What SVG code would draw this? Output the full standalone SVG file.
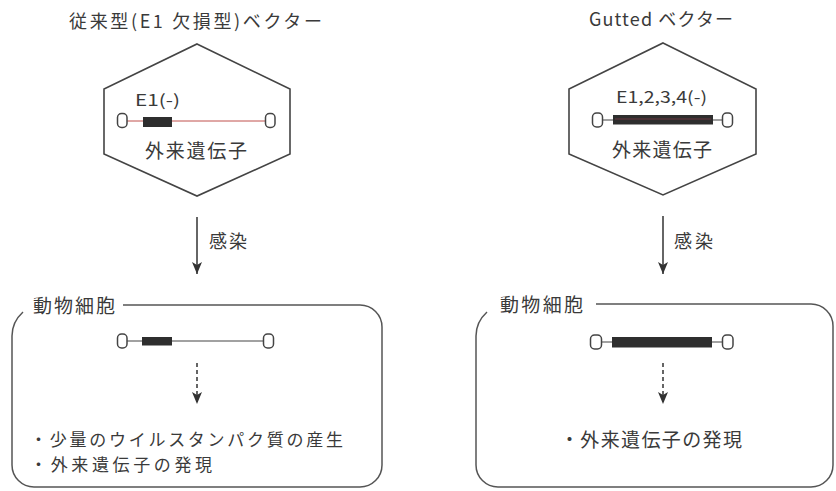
<svg xmlns="http://www.w3.org/2000/svg" width="836" height="491" viewBox="0 0 836 491">
<defs>
<marker id="ah2" viewBox="0 0 10 12" refX="5" refY="12" markerWidth="10" markerHeight="12" markerUnits="userSpaceOnUse" orient="0">
<path d="M0,0 L5,3 L10,0 L5,12 Z" fill="#333"/>
</marker>
</defs>
<style>
text{font-family:"Noto Sans CJK JP","Noto Sans",sans-serif;fill:#3a3a3a}
.t{font-size:18px}
.l{font-size:19px}
.b{font-size:17px}
.s{font-size:16px}
.hex{fill:none;stroke:#444;stroke-width:1.6}
.box{fill:none;stroke:#555;stroke-width:1.5}
.cap{fill:#fff;stroke:#444;stroke-width:1.5}
.bar{fill:#2e2e2e}
.ln{stroke:#444;stroke-width:1.2}
.rl{stroke:#c0504d;stroke-width:1}
.arr{stroke:#333;stroke-width:1.5;fill:none}
</style>
<rect width="836" height="491" fill="#fff"/>

<g id="title-left"><text class="t" x="69" y="28" textLength="253" lengthAdjust="spacing">従来型(E1 欠損型)ベクター</text></g>
<g id="title-right"><text class="t" x="589" y="26" textLength="144" lengthAdjust="spacing">Gutted ベクター</text></g>

<g id="vector-left">
<polygon class="hex" points="197,44 290,89 290,154 197,196 104,154 104,89"/>
<text class="s" x="135" y="106" textLength="45" lengthAdjust="spacingAndGlyphs">E1(-)</text>
<line class="rl" x1="127" y1="121" x2="265" y2="121"/>
<rect class="cap" x="117.5" y="113.5" width="9.5" height="14" rx="4"/>
<rect class="cap" x="265.5" y="113.5" width="9.5" height="14" rx="4"/>
<rect class="bar" x="143" y="117" width="29" height="10"/>
<text class="l" x="196" y="158" text-anchor="middle" textLength="102" lengthAdjust="spacing">外来遺伝子</text>
</g>

<g id="vector-right">
<polygon class="hex" points="663,43 756,89 756,154 663,195 569,154 569,89"/>
<text class="s" x="616" y="103" textLength="91" lengthAdjust="spacingAndGlyphs">E1,2,3,4(-)</text>
<line class="ln" x1="603" y1="120" x2="722" y2="120"/>
<rect class="cap" x="592.5" y="113" width="10" height="14" rx="4"/>
<rect class="cap" x="722.5" y="113" width="10" height="14" rx="4"/>
<rect class="bar" x="613" y="115" width="100" height="9.5"/>
<line x1="615" y1="119" x2="711" y2="119" stroke="#7a3a44" stroke-width="0.8"/>
<text class="l" x="662" y="157" text-anchor="middle" textLength="100" lengthAdjust="spacing">外来遺伝子</text>
</g>

<g id="cell-left">
<path class="box" d="M123,305 H360 A22,22 0 0 1 382,327 V465 A22,22 0 0 1 360,487 H34 A22,22 0 0 1 12,465 V336 Q12,322 23,312"/>
<text class="l" x="33" y="313" textLength="82" lengthAdjust="spacing">動物細胞</text>
<line class="ln" x1="127" y1="341" x2="263" y2="341"/>
<rect class="cap" x="117.5" y="334" width="9.5" height="14" rx="4"/>
<rect class="cap" x="263.5" y="334" width="10" height="14" rx="4"/>
<rect class="bar" x="142" y="337" width="30" height="8.5"/>
<text class="b" x="30" y="446" textLength="313" lengthAdjust="spacing">・少量のウイルスタンパク質の産生</text>
<text class="b" x="30" y="471" textLength="182" lengthAdjust="spacing">・外来遺伝子の発現</text>
</g>

<g id="cell-right">
<path class="box" d="M596,304 H811 A22,22 0 0 1 833,326 V465 A22,22 0 0 1 811,487 H498 A22,22 0 0 1 476,465 V336 Q476,322 487,312"/>
<text class="l" x="500" y="312" textLength="83" lengthAdjust="spacing">動物細胞</text>
<line class="ln" x1="602" y1="342" x2="722" y2="342"/>
<rect class="cap" x="590.5" y="335" width="11" height="14" rx="4"/>
<rect class="cap" x="722.5" y="335" width="10.5" height="14" rx="4"/>
<rect class="bar" x="612" y="337" width="100" height="10.5"/>
<text class="l" x="560" y="447" textLength="182" lengthAdjust="spacing">・外来遺伝子の発現</text>
</g>

<g id="connectors">
<line class="arr" x1="197" y1="217" x2="197" y2="274" marker-end="url(#ah2)"/>
<line class="arr" x1="663" y1="216" x2="663" y2="274" marker-end="url(#ah2)"/>
<line class="arr" x1="197" y1="363" x2="197" y2="404" stroke-dasharray="4,3" marker-end="url(#ah2)"/>
<line class="arr" x1="663" y1="363" x2="663" y2="404" stroke-dasharray="4,3" marker-end="url(#ah2)"/>
<text class="t" x="209" y="248" textLength="38" lengthAdjust="spacing">感染</text>
<text class="t" x="674" y="248" textLength="39" lengthAdjust="spacing">感染</text>
</g>
</svg>
